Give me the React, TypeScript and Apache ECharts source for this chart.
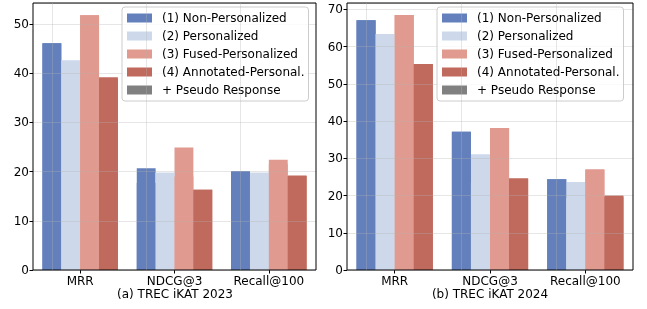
import React, { useEffect, useRef } from "react";
import * as echarts from "echarts";

const categories = ["MRR", "NDCG@3", "Recall@100"];
const methods = [
  "(1) Non-Personalized",
  "(2) Personalized",
  "(3) Fused-Personalized",
  "(4) Annotated-Personal.",
];
const pseudoLabel = "+ Pseudo Response";

// TREC iKAT 2023
const nonPers2023 = [46.1, 17.7, 20.1];
const pers2023 = [42.6, 19.8, 19.8];
const fused2023 = [51.8, 19.0, 21.6];
const annot2023 = [38.8, 16.3, 19.1];
const nonPersPseudo2023 = [46.1, 20.7, 20.1];
const persPseudo2023 = [42.6, 19.8, 19.8];
const fusedPseudo2023 = [51.8, 24.9, 22.4];
const annotPseudo2023 = [39.2, 16.3, 19.2];

// TREC iKAT 2024
const nonPers2024 = [67.1, 37.1, 24.4];
const pers2024 = [63.4, 23.4, 19.3];
const fused2024 = [68.5, 38.1, 27.0];
const annot2024 = [55.3, 24.6, 19.7];
const nonPersPseudo2024 = [67.1, 37.1, 24.4];
const persPseudo2024 = [63.4, 31.1, 23.6];
const fusedPseudo2024 = [68.5, 38.1, 27.0];
const annotPseudo2024 = [55.3, 24.6, 20.0];

const subtitles = ["(a) TREC iKAT 2023", "(b) TREC iKAT 2024"];

const colors = ["#6380bc", "#cdd9eb", "#e09a8f", "#c06a5d"];
const pseudoColor = "#808080";
const FONT = "DejaVu Sans";
const gridLineColor = "rgba(176,176,176,0.32)";

export default function App() {
  const ref = useRef<HTMLDivElement>(null);
  useEffect(() => {
    if (!ref.current) return;
    const chart = echarts.init(ref.current, null, { renderer: "svg" });

    const base = [
      [nonPers2023, pers2023, fused2023, annot2023],
      [nonPers2024, pers2024, fused2024, annot2024],
    ];
    const pseudo = [
      [nonPersPseudo2023, persPseudo2023, fusedPseudo2023, annotPseudo2023],
      [nonPersPseudo2024, persPseudo2024, fusedPseudo2024, annotPseudo2024],
    ];

    const grids = [
      { left: 33, right: 331, top: 3, bottom: 39 },
      { left: 347, right: 14, top: 3, bottom: 39 },
    ];
    const yMax = [54.3, 71.7];
    const legendLeft = [122, 437];
    const subtitleCenter = [175, 490];

    const xAxis: any[] = [];
    const yAxis: any[] = [];
    const series: any[] = [];
    grids.forEach((g, gi) => {
      xAxis.push({
        type: "category",
        gridIndex: gi,
        data: categories,
        axisLine: { show: false },
        axisTick: { show: true, alignWithLabel: true, length: 3.5, lineStyle: { color: "#000" } },
        axisLabel: {
          color: "#000",
          fontSize: 12,
          fontFamily: FONT,
          margin: 5,
          lineHeight: 12,
        },
        splitLine: { show: false },
      });
      xAxis.push({
        type: "category",
        gridIndex: gi,
        data: categories,
        show: false,
      });
      yAxis.push({
        type: "value",
        gridIndex: gi,
        min: 0,
        max: yMax[gi],
        interval: 10,
        z: 3,
        axisLine: { show: false },
        axisTick: { show: true, length: 3.5, lineStyle: { color: "#000" } },
        axisLabel: {
          color: "#000",
          fontSize: 12,
          fontFamily: FONT,
          margin: 4,
          showMaxLabel: false,
        },
        splitLine: { show: true, lineStyle: { color: gridLineColor, width: 1 } },
      });
      // pseudo-response bars (behind)
      methods.forEach((m, mi) => {
        series.push({
          type: "bar",
          name: m,
          xAxisIndex: gi * 2 + 1,
          yAxisIndex: gi,
          data: pseudo[gi][mi],
          barGap: "0%",
          barCategoryGap: "20%",
          itemStyle: { color: colors[mi] },
          silent: true,
        });
      });
      // base bars
      methods.forEach((m, mi) => {
        const s: any = {
          type: "bar",
          name: m,
          xAxisIndex: gi * 2,
          yAxisIndex: gi,
          data: base[gi][mi],
          barGap: "0%",
          barCategoryGap: "20%",
          itemStyle: { color: colors[mi] },
          silent: true,
        };
        if (mi === 0) {
          s.markLine = {
            silent: true,
            symbol: ["none", "none"],
            label: { show: false },
            lineStyle: { color: gridLineColor, type: "solid", width: 1 },
            data: categories.map((c) => ({ xAxis: c })),
          };
        }
        series.push(s);
      });
    });
    series.push({
      type: "line",
      name: pseudoLabel,
      data: [],
      xAxisIndex: 0,
      yAxisIndex: 0,
      color: pseudoColor,
      itemStyle: { color: pseudoColor },
      lineStyle: { color: pseudoColor },
    });

    const legendData = [...methods, pseudoLabel].map((n) => ({ name: n, icon: "rect" }));
    const legend = legendLeft.map((l) => ({
      left: l,
      top: 7,
      orient: "vertical",
      data: legendData,
      itemWidth: 25,
      itemHeight: 9,
      itemGap: 4,
      padding: [4, 4, 4, 5],
      borderColor: "#cccccc",
      borderWidth: 1,
      borderRadius: 3,
      backgroundColor: "rgba(255,255,255,0.8)",
      selectedMode: false,
      textStyle: {
        color: "#000",
        fontSize: 12,
        fontFamily: FONT,
        lineHeight: 14,
        padding: [0, 0, 0, 5],
      },
    }));

    const graphic = subtitles.map((t, i) => ({
      type: "text",
      x: subtitleCenter[i],
      y: 294,
      style: {
        text: t,
        fill: "#000",
        font: `12px '${FONT}'`,
        lineHeight: 12,
        align: "center",
        verticalAlign: "middle",
      },
    }));

    chart.setOption({
      animation: false,
      textStyle: { fontFamily: FONT },
      grid: grids.map((g) => ({
        ...g,
        show: true,
        borderColor: "#000",
        borderWidth: 1,
        z: 4,
      })),
      xAxis,
      yAxis,
      legend,
      series,
      graphic,
    });
    return () => chart.dispose();
  }, []);
  return (
    <div
      ref={ref}
      style={{ position: "fixed", left: 0, top: 0, width: 647, height: 309 }}
    />
  );
}
